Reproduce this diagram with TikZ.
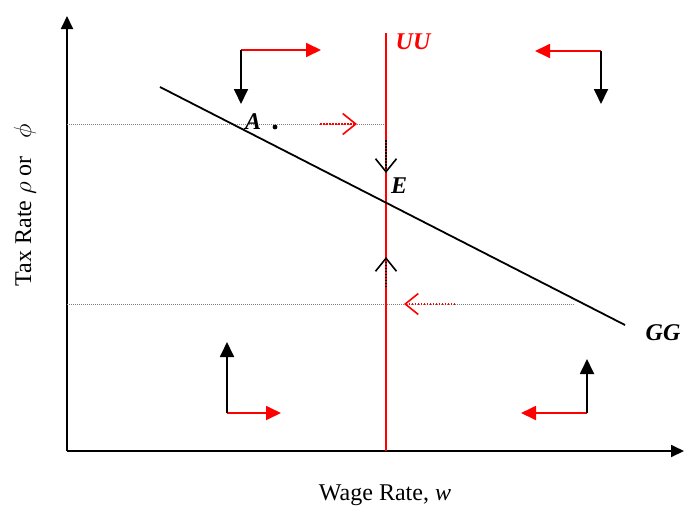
\documentclass[tikz,border=0pt]{standalone}
\usepackage{fontspec}
\setmainfont{Liberation Serif}
\usetikzlibrary{arrows.meta,positioning,calc}
\definecolor{uuRed}{RGB}{255,0,0}

\begin{document}
\begin{tikzpicture}[x=1pt,y=-1pt,
    axis/.style={line width=1.8pt,-{Triangle[length=13pt,width=12pt]}},
    turn/.style={line width=1.8pt,-{Triangle[length=15pt,width=14pt]}},
    guide/.style={gray,line width=0.5pt,dash pattern=on 1pt off 1pt},
    drift/.style={line width=1.6pt,dash pattern=on 1.5pt off 1.5pt,-{Straight Barb[length=13pt,width=21pt,line width=1.6pt]}},
    curvelabel/.style={font=\fontsize{24}{28}\selectfont\bfseries\itshape},
    axislabel/.style={font=\fontsize{24}{28}\selectfont}]
        \useasboundingbox (0,0) rectangle (684,509);
        % axes
        \coordinate (O) at (67,451);
        \coordinate (ytop) at (67,16);
        \coordinate (xend) at (684,451);
        \draw[axis] (O) -- (ytop);
        \draw[axis] (O) -- (xend);
        \node[axislabel, rotate=90] (ylab) at (25,205) {Tax Rate $\rho$ or\ \ \ $\phi$};
        \node[axislabel] (xlab) at (385,495) {Wage Rate, \textit{w}};
        % guide lines
        \coordinate (gA0) at (67,124);
        \coordinate (gA1) at (386,124);
        \coordinate (gB0) at (67,304);
        \coordinate (gB1) at (575,304);
        \draw[guide] (gA0) -- (gA1);
        \draw[guide] (gB0) -- (gB1);
        % UU and GG
        \coordinate (uuTop) at (386,33);
        \coordinate (uuBot) at (386,451);
        \draw[uuRed, line width=1.8pt] (uuTop) -- (uuBot);
        \node[curvelabel, uuRed] (uu) at (413,42) {UU};
        \coordinate (ggStart) at (160,87);
        \coordinate (ggEnd) at (625,325);
        \draw[line width=1.8pt] (ggStart) -- (ggEnd);
        \node[curvelabel] (gg) at (663,333) {GG};
        \node[curvelabel] (E) at (399,186) {E};
        \node[curvelabel] (A) at (253,122) {A};
        \fill (275,127) circle (2.4);
        % adjustment arrows
        \coordinate (dA0) at (320,124);
        \coordinate (dA1) at (357,124);
        \draw[drift, uuRed] (dA0) -- (dA1);
        \coordinate (dD0) at (386,140);
        \coordinate (dD1) at (386,173);
        \draw[drift] (dD0) -- (dD1);
        \coordinate (dU0) at (386,287);
        \coordinate (dU1) at (386,257);
        \draw[drift] (dU0) -- (dU1);
        \coordinate (dL0) at (455,304);
        \coordinate (dL1) at (404,304);
        \draw[drift, uuRed] (dL0) -- (dL1);
        % quadrant arrows
        \coordinate (tl) at (241,50);
        \coordinate (tlR) at (321,50);
        \coordinate (tlD) at (241,104);
        \draw[turn, uuRed] (tl) -- (tlR);
        \draw[turn] (tl) -- (tlD);
        \coordinate (tr) at (601,51);
        \coordinate (trL) at (535,51);
        \coordinate (trD) at (601,104);
        \draw[turn, uuRed] (tr) -- (trL);
        \draw[turn] (tr) -- (trD);
        \coordinate (bl) at (227,413);
        \coordinate (blU) at (227,342);
        \coordinate (blR) at (281,413);
        \draw[turn, uuRed] (bl) -- (blR);
        \draw[turn] (bl) -- (blU);
        \coordinate (br) at (587,413);
        \coordinate (brU) at (587,359);
        \coordinate (brL) at (521,413);
        \draw[turn, uuRed] (br) -- (brL);
        \draw[turn] (br) -- (brU);
\end{tikzpicture}
\end{document}
